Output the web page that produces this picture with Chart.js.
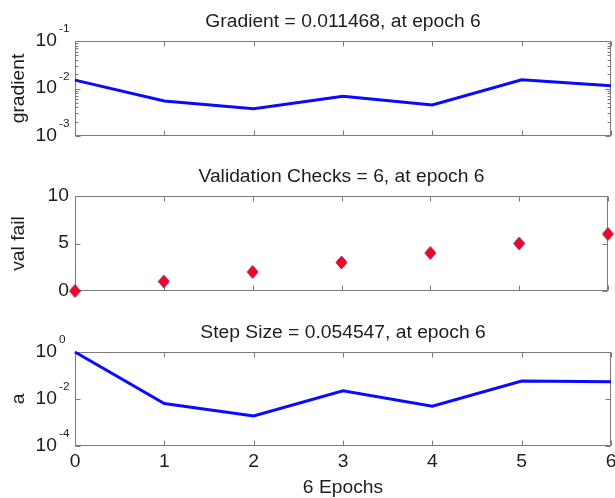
<!DOCTYPE html>
<html>
<head>
<meta charset="utf-8">
<title>Training state</title>
<script src="https://cdn.jsdelivr.net/npm/chart.js@4/dist/chart.umd.min.js"></script>
<style>
  html, body { margin: 0; padding: 0; background: #ffffff; }
  #wrap { position: relative; width: 615px; height: 498px; overflow: hidden; }
  #wrap canvas { position: absolute; left: 0; top: 0; }
</style>
</head>
<body>
<div id="wrap">
  <canvas id="cGrad" width="615" height="498"></canvas>
  <canvas id="cVal" width="615" height="498"></canvas>
  <canvas id="cStep" width="615" height="498"></canvas>
</div>
<script>
// Training record, one value per epoch
const epochs = [0, 1, 2, 3, 4, 5, 6];
const gradientValues = [0.0150, 0.00547, 0.00375, 0.00687, 0.00449, 0.0153, 0.011468];
const valFailValues = [0, 1, 2, 3, 4, 5, 6];
const stepSizeValues = [1, 0.00643, 0.00191, 0.0223, 0.00494, 0.0578, 0.054547];

// Tick labels
const epochTicks = [0, 1, 2, 3, 4, 5, 6];
const gradientTickExps = [-1, -2, -3];
const valFailTicks = [0, 5, 10];
const stepSizeTickExps = [0, -2, -4];

// Texts
const panelTitles = [
  'Gradient = 0.011468, at epoch 6',
  'Validation Checks = 6, at epoch 6',
  'Step Size = 0.054547, at epoch 6'
];
const yAxisTitles = ['gradient', 'val fail', 'a'];
const xAxisTitle = '6 Epochs';

const FONT = '"Liberation Sans", Arial, Helvetica, sans-serif';
const TEXT = '#1e1e1e';
const FRAME = '#7a7a7a';
const STRETCH = 1.07;   // slightly wide lettering

function pts(xs, ys) { return xs.map((x, i) => ({ x: x, y: ys[i] })); }

// Text helper: draws along the current direction with a little extra width
function label(ctx, text, x, y, size, align, baseline, rot) {
  ctx.save();
  ctx.translate(x, y);
  if (rot) ctx.rotate(rot);
  ctx.scale(STRETCH, 1);
  ctx.font = size + 'px ' + FONT;
  ctx.textAlign = align;
  ctx.textBaseline = baseline;
  ctx.fillText(text, 0, 0);
  ctx.restore();
}

// Diamond marker, a bit taller than wide
function diamondMarker(w, h, fill, edge) {
  const c = document.createElement('canvas');
  c.width = w + 2; c.height = h + 2;
  const g = c.getContext('2d');
  const cx = c.width / 2, cy = c.height / 2;
  g.beginPath();
  g.moveTo(cx, cy - h / 2);
  g.lineTo(cx + w / 2, cy);
  g.lineTo(cx, cy + h / 2);
  g.lineTo(cx - w / 2, cy);
  g.closePath();
  g.fillStyle = fill;
  g.fill();
  g.lineWidth = 1;
  g.strokeStyle = edge;
  g.stroke();
  return c;
}

// Draws a MATLAB-style boxed axes: frame, inward ticks, labels, titles
const boxAxes = {
  id: 'boxAxes',
  beforeDatasetsDraw(chart, args, o) {
    const ctx = chart.ctx, a = chart.chartArea;
    const xs = chart.scales.x, ys = chart.scales.y;
    ctx.save();
    ctx.fillStyle = '#ffffff';
    ctx.fillRect(a.left, a.top, a.right - a.left, a.bottom - a.top);
    ctx.strokeStyle = FRAME;
    ctx.lineWidth = 1;
    const L = Math.round(a.left) + 0.5, R = Math.round(a.right) - 0.5;
    const T = Math.round(a.top) + 0.5, B = Math.round(a.bottom) - 0.5;
    ctx.strokeRect(L, T, R - L, B - T);
    ctx.beginPath();
    o.xTicks.forEach(v => {
      const px = Math.round(xs.getPixelForValue(v)) + 0.5;
      ctx.moveTo(px, B); ctx.lineTo(px, B - 5);
      ctx.moveTo(px, T); ctx.lineTo(px, T + 5);
    });
    o.yTicks.forEach(v => {
      const py = Math.round(ys.getPixelForValue(v)) + 0.5;
      ctx.moveTo(L, py); ctx.lineTo(L + 5, py);
      ctx.moveTo(R, py); ctx.lineTo(R - 5, py);
    });
    (o.minorTicks || []).forEach(v => {
      const py = Math.round(ys.getPixelForValue(v)) + 0.5;
      ctx.moveTo(L, py); ctx.lineTo(L + 3, py);
      ctx.moveTo(R, py); ctx.lineTo(R - 3, py);
    });
    ctx.stroke();
    ctx.restore();
  },
  afterDraw(chart, args, o) {
    const ctx = chart.ctx, a = chart.chartArea;
    const xs = chart.scales.x, ys = chart.scales.y;
    const cx = (a.left + a.right) / 2;
    ctx.save();
    ctx.fillStyle = TEXT;
    // panel title
    label(ctx, o.title, cx, a.top - 14, 18, 'center', 'alphabetic');
    // y tick labels
    if (o.logLabels) {
      o.yTicks.forEach((v, i) => {
        const py = ys.getPixelForValue(v);
        label(ctx, '10', a.left - 18, py, 18, 'right', 'middle');
        label(ctx, String(o.logLabels[i]), a.left - 16, py - 12, 11, 'left', 'middle');
      });
    } else {
      o.yTicks.forEach(v => label(ctx, String(v), a.left - 6, ys.getPixelForValue(v), 18, 'right', 'middle'));
    }
    // y axis title
    label(ctx, o.yTitle, 19, (a.top + a.bottom) / 2, 18, 'center', 'middle', -Math.PI / 2);
    // x tick labels and x title on the bottom panel only
    if (o.xLabels) {
      o.xTicks.forEach(v => label(ctx, String(v), xs.getPixelForValue(v), a.bottom + 16, 18, 'center', 'middle'));
      label(ctx, o.xTitle, cx, a.bottom + 47, 18, 'center', 'alphabetic');
    }
    ctx.restore();
  }
};

function baseOptions(pad, yScale, axesOpts) {
  return {
    responsive: false,
    animation: false,
    events: [],
    layout: { padding: pad },
    plugins: { legend: { display: false }, tooltip: { enabled: false }, boxAxes: axesOpts },
    scales: {
      x: { type: 'linear', min: 0, max: 6, display: false },
      y: Object.assign({ display: false }, yScale)
    }
  };
}

// Page background
const bgPlugin = {
  id: 'bg',
  beforeDraw(chart) {
    const c = chart.ctx;
    c.save();
    c.fillStyle = '#ffffff';
    c.fillRect(0, 0, chart.width, chart.height);
    c.restore();
  }
};

const gradMinor = [];
[1e-3, 1e-2].forEach(d => [2, 3, 4, 5, 6, 7, 8, 9].forEach(m => gradMinor.push(m * d)));

new Chart(document.getElementById('cGrad'), {
  type: 'line',
  data: { datasets: [{
    data: pts(epochs, gradientValues),
    borderColor: '#0a0aff', borderWidth: 3, pointRadius: 0, tension: 0, clip: false
  }] },
  options: baseOptions(
    { left: 75, right: 4, top: 41, bottom: 362 },
    { type: 'logarithmic', min: 1e-3, max: 1e-1 },
    { title: panelTitles[0], yTitle: yAxisTitles[0], xTicks: epochTicks,
      yTicks: gradientTickExps.map(e => Math.pow(10, e)), logLabels: gradientTickExps,
      minorTicks: gradMinor, xLabels: false }
  ),
  plugins: [bgPlugin, boxAxes]
});

new Chart(document.getElementById('cVal'), {
  type: 'scatter',
  data: { datasets: [{
    data: pts(epochs, valFailValues),
    pointStyle: diamondMarker(11, 13, '#ff0018', '#6a2a9a'), pointRadius: 6,
    clip: false
  }] },
  options: baseOptions(
    { left: 75, right: 4, top: 196, bottom: 207 },
    { type: 'linear', min: 0, max: 10 },
    { title: panelTitles[1], yTitle: yAxisTitles[1], xTicks: epochTicks,
      yTicks: valFailTicks, xLabels: false }
  ),
  plugins: [boxAxes]
});

new Chart(document.getElementById('cStep'), {
  type: 'line',
  data: { datasets: [{
    data: pts(epochs, stepSizeValues),
    borderColor: '#0a0aff', borderWidth: 3, pointRadius: 0, tension: 0, clip: false
  }] },
  options: baseOptions(
    { left: 75, right: 4, top: 352, bottom: 52 },
    { type: 'logarithmic', min: 1e-4, max: 1 },
    { title: panelTitles[2], yTitle: yAxisTitles[2], xTicks: epochTicks,
      yTicks: stepSizeTickExps.map(e => Math.pow(10, e)), logLabels: stepSizeTickExps,
      xLabels: true, xTitle: xAxisTitle }
  ),
  plugins: [boxAxes]
});
</script>
</body>
</html>
